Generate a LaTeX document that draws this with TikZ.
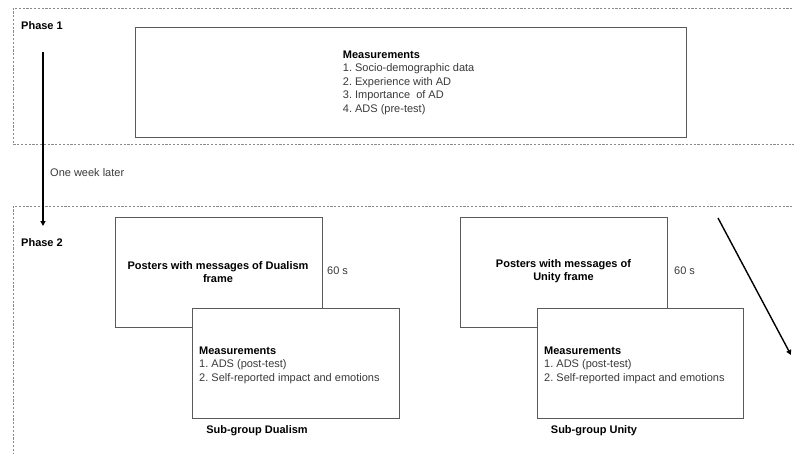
\documentclass[tikz,border=0pt]{standalone}
\usepackage{fontspec}
\setmainfont{Liberation Sans}
\usetikzlibrary{arrows.meta}
\definecolor{txtgray}{HTML}{3A3A3A}
\definecolor{boxgray}{HTML}{5A5A5A}
\definecolor{dashgray}{HTML}{8A8A8A}
\begin{document}
\begin{tikzpicture}[x=1pt,y=-1pt,
  phasebox/.style={draw=dashgray, line width=0.8pt, dash pattern=on 2.2pt off 1.6pt},
  mbox/.style={draw=boxgray, line width=1pt, fill=white},
  lbl/.style={inner sep=0pt, font=\fontsize{11}{13.5}\selectfont, text=txtgray},
  blbl/.style={inner sep=0pt, font=\fontsize{11}{13.5}\selectfont\bfseries, text=black},
  flow/.style={draw=black, line width=1.4pt, -{Triangle[length=5pt,width=5pt]}}]
\useasboundingbox (0,0) rectangle (794,453);
% phase frames
\draw[phasebox] (800,8) -- (13,8) -- (13,144) -- (800,144);
\draw[phasebox] (800,206) -- (13,206) -- (13,460);
\node[blbl, anchor=west] (p1) at (21,26) {Phase 1};
\node[blbl, anchor=west] (p2) at (21,243) {Phase 2};
% phase 1 measurements
\node[mbox, anchor=north west, minimum width=551.5pt, minimum height=110pt] (m1) at (134.5,27) {};
\node[lbl, anchor=north west, align=left] (m1t) at (342.7,50.5)
  {\textbf{\color{black}Measurements}\\1.~Socio-demographic data\\2.~Experience with AD\\3.~Importance\ \ of AD\\4.~ADS (pre-test)};
% time arrow
\coordinate (ta) at (43,52);
\coordinate (tb) at (43,226);
\draw[flow] (ta) -- (tb);
\node[lbl, anchor=west] (wk) at (50,173) {One week later};
% Dualism group
\node[mbox, anchor=north west, minimum width=207pt, minimum height=110pt] (pd) at (115,217) {};
\node[blbl, align=center] (pdt) at (218,272) {Posters with messages of Dualism\\frame};
\node[lbl, anchor=west] (sd) at (327,271) {60 s};
\node[mbox, anchor=north west, minimum width=207pt, minimum height=110pt] (md) at (192,308) {};
\node[lbl, anchor=north west, align=left] (mdt) at (199,346.5)
  {\textbf{\color{black}Measurements}\\1.~ADS (post-test)\\2.~Self-reported impact and emotions};
\node[blbl] (gd) at (257,431) {Sub-group Dualism};
% Unity group
\node[mbox, anchor=north west, minimum width=207pt, minimum height=110pt] (pu) at (460,217) {};
\node[blbl, align=center] (put) at (563.5,271) {Posters with messages of\\Unity frame};
\node[lbl, anchor=west] (su) at (674,271) {60 s};
\node[mbox, anchor=north west, minimum width=206pt, minimum height=110pt] (mu) at (537,308) {};
\node[lbl, anchor=north west, align=left] (mut) at (544,346.5)
  {\textbf{\color{black}Measurements}\\1.~ADS (post-test)\\2.~Self-reported impact and emotions};
\node[blbl] (gu) at (594,431) {Sub-group Unity};
% diagonal arrow
\coordinate (da) at (718,218);
\coordinate (db) at (791,355);
\draw[flow] (da) -- (db);
\end{tikzpicture}
\end{document}
